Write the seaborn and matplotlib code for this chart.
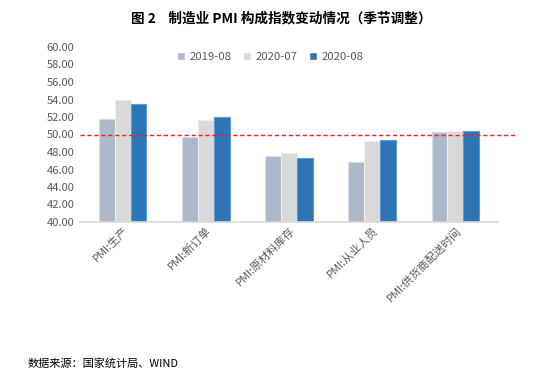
import matplotlib
matplotlib.use("Agg")
import matplotlib.pyplot as plt
import seaborn as sns
import pandas as pd

categories = ["PMI:生产", "PMI:新订单", "PMI:原材料库存", "PMI:从业人员", "PMI:供货商配送时间"]
series_names = ["2019-08", "2020-07", "2020-08"]
v_2019_08 = [51.8, 49.7, 47.5, 46.9, 50.3]
v_2020_07 = [53.9, 51.7, 47.9, 49.3, 50.4]
v_2020_08 = [53.5, 52.0, 47.3, 49.4, 50.4]
y_ticks = [40, 42, 44, 46, 48, 50, 52, 54, 56, 58, 60]
title = "图 2    制造业 PMI 构成指数变动情况（季节调整）"
source = "数据来源：国家统计局、WIND"

rows = []
for name, vals in zip(series_names, [v_2019_08, v_2020_07, v_2020_08]):
    for c, v in zip(categories, vals):
        rows.append({"cat": c, "series": name, "value": v})
df = pd.DataFrame(rows)

sns.set_theme(style="white")
plt.rcParams['font.family'] = ['Noto Sans CJK SC', 'DejaVu Sans']

fig = plt.figure(figsize=(5.5, 3.82), dpi=100)
ax = fig.add_axes([80/550, 1-222/382, 418/550, 175/382])

palette = ["#ADB9CA", "#D9D9D9", "#2E75B6"]
sns.barplot(data=df, x="cat", y="value", hue="series", palette=palette,
            width=0.57, ax=ax, saturation=1, legend=True)
edge = ["#D6DCE4", "#EDEDED", "#5B9BD5"]
for i, cont in enumerate(ax.containers):
    for p in cont:
        p.set_edgecolor(edge[i])
        p.set_linewidth(0.8)

ax.set_ylim(40, 60)
ax.set_yticks(y_ticks)
ax.set_yticklabels([f"{t:.2f}" for t in y_ticks])
ax.set_xlabel("")
ax.set_ylabel("")
for s in ["top", "right", "left"]:
    ax.spines[s].set_visible(False)
ax.spines["bottom"].set_color("#D9D9D9")
ax.spines["bottom"].set_linewidth(1.2)
ax.tick_params(axis="y", length=0, labelsize=8, labelcolor="#595959", pad=4)
ax.tick_params(axis="x", length=0, labelsize=8, labelcolor="#595959", pad=2)
for lbl in ax.get_xticklabels():
    lbl.set_rotation(45)
    lbl.set_ha("right")
    lbl.set_rotation_mode("anchor")

ax.plot([0, 1.04], [50, 50], transform=ax.get_yaxis_transform(), color="#FF1A1A",
        linestyle=(0, (3, 2)), linewidth=1.0, clip_on=False, zorder=5)

leg = ax.legend(loc="upper center", bbox_to_anchor=(0.455, 1.03), ncol=3, frameon=False,
                fontsize=8.2, handlelength=0.7, handleheight=0.7, columnspacing=1.0,
                handletextpad=0.4)
for t in leg.get_texts():
    t.set_color("#595959")

fig.text(0.511, 1-18/382, title, ha="center", va="center", fontsize=9.8, fontweight="bold", color="#000000")
fig.text(28/550, 1-363/382, source, ha="left", va="center", fontsize=8, color="#000000")

fig.savefig("out.png", dpi=100)
